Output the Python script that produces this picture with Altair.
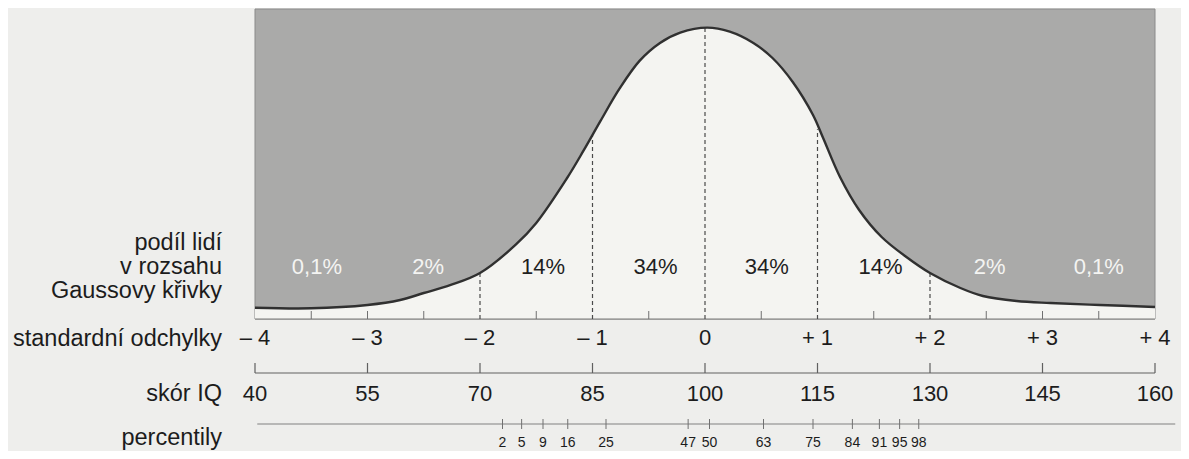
import altair as alt
import pandas as pd

# ---------------- data ----------------
SD_POS = [-4, -3, -2, -1, 0, 1, 2, 3, 4]
SD_LABELS = ["– 4", "– 3", "– 2", "– 1", "0", "+ 1", "+ 2", "+ 3", "+ 4"]
IQ_LABELS = ["40", "55", "70", "85", "100", "115", "130", "145", "160"]

CURVE_SD = [-4.0, -3.5, -3.0, -2.71, -2.5, -2.26, -2.0, -1.68, -1.5, -1.23, -1.08,
            -0.93, -0.76, -0.58, -0.4, -0.22, 0.02, 0.22, 0.43, 0.6, 0.78, 0.96,
            1.05, 1.2, 1.37, 1.57, 1.79, 2.0, 2.27, 2.47, 2.77, 3.07, 3.51, 4.0]
CURVE_H = [0.0153, 0.0145, 0.0190, 0.0257, 0.0352, 0.0461, 0.0623, 0.1010, 0.1301,
           0.1900, 0.2280, 0.2680, 0.3120, 0.3500, 0.3740, 0.3880, 0.3947, 0.3892,
           0.3739, 0.3536, 0.3211, 0.2764, 0.2452, 0.1924, 0.1477, 0.1111, 0.0840,
           0.0623, 0.0420, 0.0312, 0.0244, 0.0217, 0.0190, 0.0163]

SHARE_LABELS = ["0,1%", "2%", "14%", "34%", "34%", "14%", "2%", "0,1%"]
SHARE_POS = [-3.45, -2.46, -1.44, -0.44, 0.55, 1.56, 2.53, 3.5]
SHARE_COLOR = ["#f4f4f2", "#f4f4f2", "#1f1f1f", "#1f1f1f", "#1f1f1f", "#1f1f1f",
               "#f4f4f2", "#f4f4f2"]

DASH_SD = [-2, -1, 0, 1, 2]
DASH_TOP = [0.062, 0.249, 0.395, 0.257, 0.062]

MINOR_SD = [-3.5, -3, -2.5, -1.5, -0.5, 0.5, 1.5, 2.5, 3, 3.5]

PCT_LABELS = ["2", "5", "9", "16", "25", "47", "50", "63", "75", "84", "91", "95", "98"]
PCT_SD = [-1.80, -1.63, -1.44, -1.22, -0.88, -0.15, 0.04, 0.52, 0.96, 1.31, 1.55,
          1.73, 1.90]

SHARE_ROW_TEXT = ["podíl lidí", "v rozsahu", "Gaussovy křivky"]
ROW_TEXT = ["standardní odchylky", "skór IQ", "percentily"]

# ---------------- layout ----------------
W, H = 1173, 443
PX_SD = 112.5            # pixels per standard deviation
PX_UNIT = 738.1          # pixels per density unit
X_MIN = -4 - (255 - 8) / PX_SD
X_MAX = X_MIN + W / PX_SD
Y_MIN = -(451 - 319) / PX_UNIT
Y_MAX = Y_MIN + H / PX_UNIT


def yv(px):
    return (319 - px) / PX_UNIT


FONT = "Liberation Sans"
DARK = "#1c1c1c"

xs = alt.Scale(domain=[X_MIN, X_MAX], nice=False, zero=False)
ys = alt.Scale(domain=[Y_MIN, Y_MAX], nice=False, zero=False)


def X(f="x"):
    return alt.X(f"{f}:Q", scale=xs, axis=None)


def Yc(f="y"):
    return alt.Y(f"{f}:Q", scale=ys, axis=None)


curve = pd.DataFrame({"x": CURVE_SD, "y": CURVE_H, "y0": [0.0] * len(CURVE_SD)})

box = alt.Chart(pd.DataFrame({"x": [-4], "x2": [4], "y": [0.0], "y2": [0.42]})).mark_rect(
    color="#aaaaa9", stroke="#8a8a8a", strokeWidth=1
).encode(x=X(), x2="x2:Q", y=Yc(), y2="y2:Q")

area = alt.Chart(curve).mark_area(interpolate="catmull-rom", color="#f4f4f1").encode(
    x=X(), y=Yc(), y2="y0:Q"
)

base_line = alt.Chart(pd.DataFrame({"x": [-4], "x2": [4], "y": [0.0]})).mark_rule(
    color="#7a7a7a", strokeWidth=1.2
).encode(x=X(), x2="x2:Q", y=Yc())

minor = alt.Chart(pd.DataFrame({"x": MINOR_SD, "y": [0.0] * len(MINOR_SD),
                                "y2": [yv(311)] * len(MINOR_SD)})).mark_rule(
    color="#707070", strokeWidth=1
).encode(x=X(), y=Yc(), y2="y2:Q")

dashed = alt.Chart(pd.DataFrame({"x": DASH_SD, "y": [0.0] * len(DASH_SD), "y2": DASH_TOP})).mark_rule(
    color="#4a4a4a", strokeWidth=1.2, strokeDash=[4, 3]
).encode(x=X(), y=Yc(), y2="y2:Q")

line = alt.Chart(curve).mark_line(interpolate="catmull-rom", color="#303030", strokeWidth=2.4).encode(
    x=X(), y=Yc()
)

shares = alt.Chart(pd.DataFrame({"x": SHARE_POS, "y": [yv(267)] * 8, "t": SHARE_LABELS,
                                 "c": SHARE_COLOR})).mark_text(
    font=FONT, fontSize=22, baseline="middle", align="center"
).encode(x=X(), y=Yc(), text="t:N", color=alt.Color("c:N", scale=None))

sd_text = alt.Chart(pd.DataFrame({"x": SD_POS, "y": [yv(338)] * 9, "t": SD_LABELS})).mark_text(
    font=FONT, fontSize=22, baseline="middle", align="center", color=DARK
).encode(x=X(), y=Yc(), text="t:N")

iq_line = alt.Chart(pd.DataFrame({"x": [-4], "x2": [4], "y": [yv(373)]})).mark_rule(
    color="#606060", strokeWidth=1.2
).encode(x=X(), x2="x2:Q", y=Yc())

iq_ticks = alt.Chart(pd.DataFrame({"x": SD_POS, "y": [yv(373)] * 9, "y2": [yv(363)] * 9})).mark_rule(
    color="#606060", strokeWidth=1.2
).encode(x=X(), y=Yc(), y2="y2:Q")

iq_text = alt.Chart(pd.DataFrame({"x": SD_POS, "y": [yv(394)] * 9, "t": IQ_LABELS})).mark_text(
    font=FONT, fontSize=22, baseline="middle", align="center", color=DARK
).encode(x=X(), y=Yc(), text="t:N")

pct_line = alt.Chart(pd.DataFrame({"x": [-3.98], "x2": [4.18], "y": [yv(424)]})).mark_rule(
    color="#808080", strokeWidth=1
).encode(x=X(), x2="x2:Q", y=Yc())

pct_ticks = alt.Chart(pd.DataFrame({"x": PCT_SD, "y": [yv(419)] * 13, "y2": [yv(429)] * 13})).mark_rule(
    color="#707070", strokeWidth=1
).encode(x=X(), y=Yc(), y2="y2:Q")

pct_text = alt.Chart(pd.DataFrame({"x": PCT_SD, "y": [yv(443)] * 13, "t": PCT_LABELS})).mark_text(
    font=FONT, fontSize=14, baseline="middle", align="center", color=DARK
).encode(x=X(), y=Yc(), text="t:N")

LABEL_X = -4 - (255 - 222) / PX_SD
share_rows = alt.Chart(pd.DataFrame({"x": [LABEL_X] * 3, "y": [yv(243), yv(267), yv(291)],
                                     "t": SHARE_ROW_TEXT})).mark_text(
    font=FONT, fontSize=23.5, baseline="middle", align="right", color=DARK
).encode(x=X(), y=Yc(), text="t:N")

rows = alt.Chart(pd.DataFrame({"x": [LABEL_X] * 3, "y": [yv(339), yv(394), yv(438)],
                               "t": ROW_TEXT})).mark_text(
    font=FONT, fontSize=23.5, baseline="middle", align="right", color=DARK
).encode(x=X(), y=Yc(), text="t:N")

chart = alt.layer(
    box, area, base_line, minor, dashed, line, shares, sd_text, iq_line, iq_ticks, iq_text,
    pct_line, pct_ticks, pct_text, share_rows, rows
).properties(
    width=W, height=H, padding=0, background="#eeeeec",
    autosize=alt.AutoSizeParams(type="none")
).configure_view(strokeWidth=0)

chart.save("out.html", embed_options={"renderer": "svg", "actions": False})
